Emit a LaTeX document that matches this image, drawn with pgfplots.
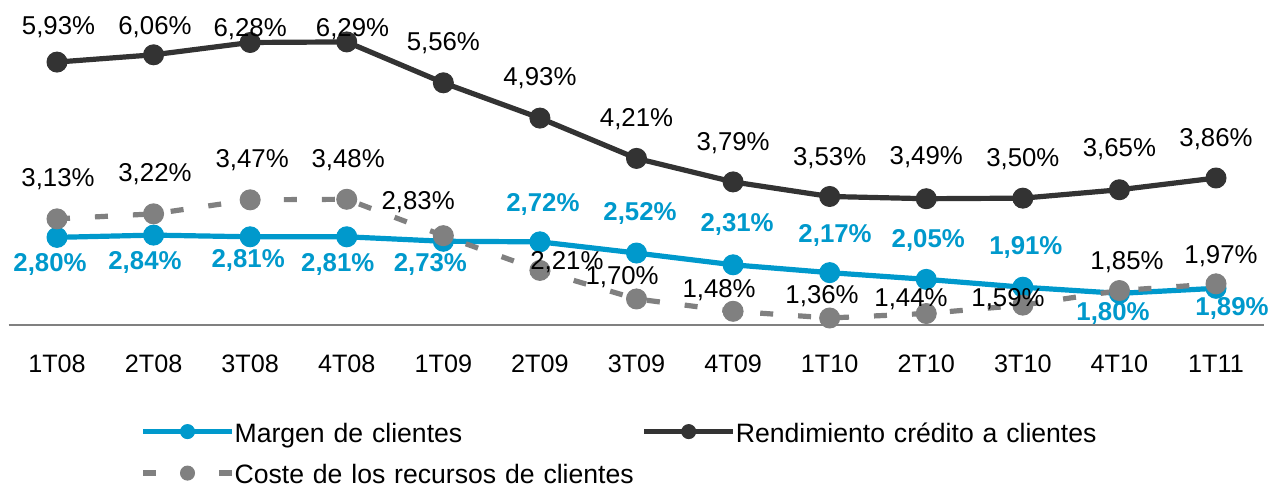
\documentclass[border=0pt]{standalone}
\usepackage{pgfplots}
\pgfplotsset{compat=1.18}
\usepackage{pgfplotstable}
\usepackage{fontspec}
\setmainfont{Liberation Sans}
\definecolor{cblue}{RGB}{0,153,204}
\definecolor{cblack}{RGB}{51,51,51}
\definecolor{cgray}{RGB}{128,128,128}

% x value label-dx(pt) label-dy(pt)
\pgfplotstableread{
x y dx dy
0 2.80 -3.5 -12.3
1 2.84 -4.3 -12.5
2 2.81 -1.0 -10.5
3 2.81 -4.5 -12.6
4 2.73 -6.5 -10.4
5 2.72 1.5 20.0
6 2.52 1.75 21.0
7 2.31 2.0 21.4
8 2.17 2.7 19.8
9 2.05 1.0 20.7
10 1.91 1.5 21.0
11 1.80 -3.2 -8.8
12 1.89 8.0 -8.8
}\margen

\pgfplotstableread{
x y dx dy
0 5.93 0.75 18.3
1 6.06 0.7 14.9
2 6.28 0 7.5
3 6.29 2.9 7.5
4 5.56 0 21
5 4.93 0 21
6 4.21 0 20.5
7 3.79 0 20.5
8 3.53 0 20
9 3.49 0 21.5
10 3.50 0 20.5
11 3.65 0 21
12 3.86 0 20.5
}\rend

\pgfplotstableread{
x y dx dy
0 3.13 0.5 21
1 3.22 0.7 20.9
2 3.47 1 20.9
3 3.48 0.7 20.6
4 2.83 -12.6 17.8
5 2.21 13.5 5.2
6 1.70 -7.2 12
7 1.48 -7 11.6
8 1.36 -3.8 12
9 1.44 -7.6 8.2
10 1.59 -7.4 4.1
11 1.85 3.8 15.3
12 1.97 2.5 14.9
}\coste

\newcommand{\lblfont}{\fontsize{12.9}{15}\selectfont}
\newcommand{\lbl}{\pgfmathprintnumber[fixed,fixed zerofill,precision=2,use comma,assume math mode=true]{\pgfplotspointmeta}\%}

\begin{document}
\begin{tikzpicture}
\useasboundingbox (0,0) rectangle (635pt,243.5pt);
\begin{axis}[
  at={(4.35pt,81pt)}, anchor=south west,
  scale only axis, width=627.8pt, height=161.42pt,
  xmin=-0.5, xmax=12.5, ymin=1.235, ymax=7.0,
  axis x line=bottom, axis y line=none,
  x axis line style={-, draw=cgray, line width=0.8pt},
  xtick={0,...,12},
  xticklabels={1T08,2T08,3T08,4T08,1T09,2T09,3T09,4T09,1T10,2T10,3T10,4T10,1T11},
  major tick length=0pt,
  xticklabel style={anchor=base, yshift=-23.5pt, font=\fontsize{12.6}{15}\selectfont, text=black},
  clip=false,
  legend columns=2,
  legend cell align=left,
  legend style={at={(0.10458,-0.29333)}, anchor=north west, draw=none, fill=none,
    inner sep=0pt, row sep=9.25pt, font=\fontsize{13.3}{15}\selectfont,
    nodes={inner sep=0pt, text height=11pt, text depth=0.5pt, text width=203.5pt, align=left},
    /tikz/every odd column/.append style={column sep=0pt}},
  legend image code/.code={\draw[mark repeat=2, mark phase=2, #1, mark size=3.5pt] plot coordinates {(0pt,0pt) (22.25pt,0pt) (44.5pt,0pt)};},
]
\addplot[cblue, line width=2.6pt, line join=round, mark=*, mark size=5pt,
  mark options={solid, fill=cblue, draw=cblue, line width=0.5pt}]
  table[x=x,y=y]{\margen};
\addlegendentry{Margen de clientes}
\addplot[cblack, line width=2.6pt, line join=round, mark=*, mark size=5pt,
  mark options={solid, fill=cblack, draw=cblack, line width=0.5pt}]
  table[x=x,y=y]{\rend};
\addlegendentry{Rendimiento crédito a clientes}
\addplot[cgray, line width=2.6pt, dash pattern=on 6.5pt off 12.5pt, mark=*, mark size=5pt,
  mark options={solid, fill=cgray, draw=cgray, line width=0.5pt}]
  table[x=x,y=y]{\coste};
\addlegendentry{Coste de los recursos de clientes}

% data labels
\addplot[draw=none, mark=none, forget plot, point meta=explicit,
  visualization depends on={\thisrow{dx} \as \ldx},
  visualization depends on={\thisrow{dy} \as \ldy},
  nodes near coords={\lbl},
  nodes near coords style={anchor=base, inner sep=0pt, xshift={(\ldx)*1pt}, yshift={(\ldy)*1pt-4.62pt}, font=\lblfont\bfseries, text=cblue},
] table[x=x,y=y,meta=y]{\margen};
\addplot[draw=none, mark=none, forget plot, point meta=explicit,
  visualization depends on={\thisrow{dx} \as \ldx},
  visualization depends on={\thisrow{dy} \as \ldy},
  nodes near coords={\lbl},
  nodes near coords style={anchor=base, inner sep=0pt, xshift={(\ldx)*1pt}, yshift={(\ldy)*1pt-4.62pt}, font=\lblfont, text=black},
] table[x=x,y=y,meta=y]{\rend};
\addplot[draw=none, mark=none, forget plot, point meta=explicit,
  visualization depends on={\thisrow{dx} \as \ldx},
  visualization depends on={\thisrow{dy} \as \ldy},
  nodes near coords={\lbl},
  nodes near coords style={anchor=base, inner sep=0pt, xshift={(\ldx)*1pt}, yshift={(\ldy)*1pt-4.62pt}, font=\lblfont, text=black},
] table[x=x,y=y,meta=y]{\coste};
\end{axis}
\end{tikzpicture}
\end{document}
